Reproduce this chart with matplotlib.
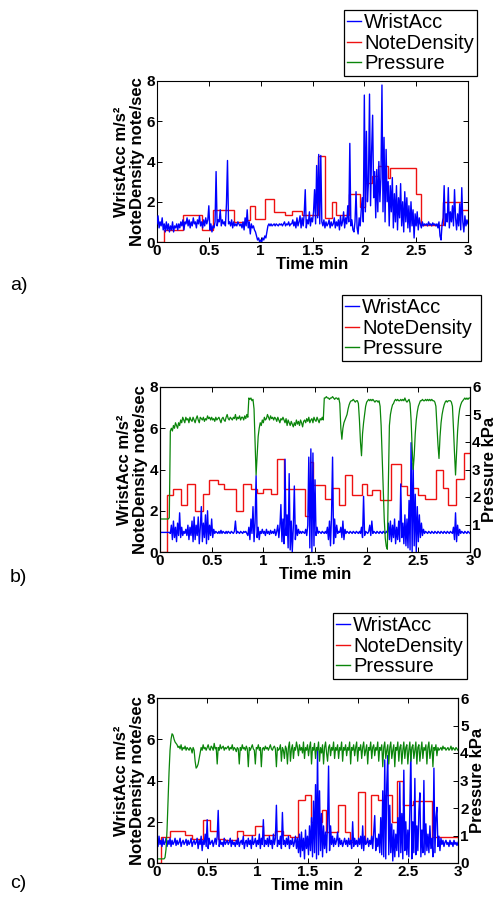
import numpy as np
import matplotlib
matplotlib.use("Agg")
import matplotlib.pyplot as plt
from matplotlib.lines import Line2D

plt.rcParams['font.family'] = ['Liberation Sans', 'DejaVu Sans']

# ---------------- data ----------------
# WristAcc sampled every 0.01 min from 0 to 3 min (m/s^2)
wrist_a = [
    0.9, 1.3, 0.7, 1.0, 0.8, 1.2, 0.6, 0.9, 0.5, 1.0,
    0.6, 0.9, 0.5, 0.8, 0.6, 1.0, 0.5, 0.8, 0.7, 0.9,
    0.6, 0.9, 0.7, 1.0, 0.8, 1.1, 0.6, 1.0, 0.9, 1.2,
    0.8, 1.1, 0.7, 1.0, 0.8, 1.2, 0.9, 1.0, 0.7, 1.1,
    0.9, 1.3, 0.8, 1.0, 0.7, 1.1, 0.8, 1.2, 0.9, 1.1,
    1.8, 0.6, 0.9, 0.5, 0.8, 0.7, 1.0, 3.5, 0.8, 1.1,
    1.0, 1.6, 0.8, 1.1, 0.9, 1.0, 0.8, 1.9, 4.05, 0.9,
    1.0, 0.8, 1.1, 0.7, 1.0, 0.8, 0.9, 0.8, 1.0, 0.9,
    0.8, 0.9, 0.7, 1.0, 0.6, 1.2, 0.8, 1.6, 0.7, 1.0,
    0.4, 0.9, 0.7, 0.8, 0.6, 0.5, 0.3, 0.1, 0.2, 0.0,
    0.1, 0.0, 0.2, 0.1, 0.3, 0.2, 0.5, 0.8, 0.9, 0.8,
    0.9, 0.8, 0.85, 0.9, 0.8, 0.9, 0.85, 0.8, 0.9, 0.85,
    0.9, 0.8, 0.9, 1.0, 0.8, 0.9, 0.85, 1.0, 0.8, 0.9,
    0.9, 1.1, 0.8, 1.0, 0.7, 1.2, 0.8, 1.0, 1.3, 0.7,
    1.2, 0.8, 1.4, 2.6, 0.7, 1.1, 0.9, 1.5, 0.8, 1.2,
    1.0, 1.5, 2.6, 0.9, 3.8, 1.2, 4.35, 0.9, 4.3, 1.0,
    0.8, 1.1, 0.7, 1.0, 0.8, 0.9, 1.1, 0.7, 1.0, 0.8,
    0.9, 1.2, 0.7, 1.0, 0.8, 1.1, 0.6, 1.3, 0.8, 1.0,
    1.5, 0.7, 1.2, 0.9, 1.8, 1.0, 4.9, 0.8, 1.1, 0.6,
    0.5, 1.0, 2.5, 0.7, 0.4, 1.2, 0.8, 1.6, 2.2, 1.0,
    7.3, 1.5, 5.5, 2.0, 3.0, 7.35, 1.8, 4.5, 6.3, 2.2,
    3.5, 1.2, 3.6, 1.5, 4.0, 2.0, 3.2, 7.8, 1.5, 5.2,
    1.0, 4.6, 2.0, 3.0, 0.8, 2.8, 1.5, 3.2, 0.7, 2.4,
    1.0, 2.8, 0.6, 2.2, 1.2, 2.9, 0.8, 2.0, 0.5, 2.5,
    1.0, 2.2, 0.7, 1.8, 0.5, 2.0, 0.8, 1.6, 0.2, 1.4,
    0.8, 1.5, 0.6, 1.2, 0.9, 0.7, 1.0, 0.8, 0.9, 0.85,
    0.9, 0.8, 1.0, 0.85, 0.9, 0.8, 0.95, 0.85, 0.9, 0.8,
    0.9, 0.7, 1.0, 0.3, 0.1, 0.9, 1.2, 2.8, 0.8, 1.4,
    1.0, 2.7, 0.7, 1.5, 1.0, 1.8, 0.8, 2.6, 1.2, 0.6,
    1.4, 0.8, 1.9, 0.6, 2.7, 1.0, 0.5, 1.3, 0.8, 1.1, 0.9,
]
wrist_b = [
    0.95, 0.95, 0.95, 0.95, 0.95, 0.95, 0.95, 0.95, 0.95, 0.95,
    0.9, 1.3, 0.6, 1.5, 0.7, 1.2, 0.5, 1.4, 0.8, 1.9,
    0.7, 1.2, 0.8, 1.0, 0.9, 1.1, 0.8, 1.3, 0.6, 1.2,
    0.8, 1.5, 0.5, 1.7, 0.6, 1.3, 0.8, 1.7, 0.4, 1.2,
    2.2, 0.5, 1.4, 0.7, 1.8, 0.4, 2.0, 0.6, 1.3, 0.8,
    1.6, 0.7, 1.1, 0.9, 1.0, 0.95, 0.9, 1.0, 0.9, 1.05,
    0.9, 1.0, 0.95, 0.9, 1.0, 0.9, 1.0, 0.95, 0.9, 1.0,
    0.95, 0.9, 1.0, 1.5, 0.9, 1.0, 0.95, 0.9, 1.0, 0.95,
    0.9, 1.0, 0.95, 1.0, 0.9, 0.8, 1.2, 0.6, 1.6, 0.9,
    2.2, 0.5, 1.4, 3.7, 0.7, 1.2, 0.6, 1.0, 0.9, 1.1,
    0.9, 1.0, 0.8, 1.1, 0.9, 1.0, 0.85, 1.05, 0.9, 1.0,
    0.9, 1.1, 0.8, 1.0, 1.3, 0.7, 1.2, 2.3, 0.5, 1.6,
    0.4, 4.5, 0.8, 1.8, 0.2, 3.8, 0.1, 1.5, 0.0, 1.2,
    3.2, 0.6, 1.3, 0.8, 1.1, 0.9, 1.0, 0.9, 1.0, 0.95,
    0.9, 1.1, 0.8, 1.3, 4.6, 0.2, 5.0, 0.0, 4.8, 0.3,
    3.5, 0.8, 1.2, 0.9, 1.0, 0.95, 0.9, 1.0, 0.95, 0.9,
    1.0, 0.9, 1.2, 0.6, 1.5, 0.3, 1.8, 4.6, 0.4, 1.6,
    0.7, 1.3, 0.9, 1.0, 0.95, 1.2, 0.7, 1.5, 0.6, 1.1,
    0.9, 1.0, 0.95, 0.9, 1.0, 0.95, 0.9, 1.0, 0.95, 0.9,
    1.0, 0.95, 0.9, 1.0, 0.9, 1.2, 0.7, 2.7, 0.8, 1.0,
    0.95, 0.9, 1.0, 1.3, 0.8, 1.5, 0.9, 1.0, 0.95, 0.9,
    1.0, 0.95, 0.9, 1.0, 0.95, 0.9, 1.0, 0.95, 0.9, 1.0,
    0.95, 1.4, 0.6, 1.5, 0.5, 1.3, 0.7, 1.6, 0.4, 1.2,
    0.6, 1.5, 0.5, 3.3, 0.7, 1.4, 0.4, 1.8, 0.3, 1.6,
    0.2, 2.5, 0.1, 5.3, 0.0, 4.3, 0.3, 2.8, 0.0, 2.2,
    0.5, 1.8, 0.7, 1.4, 0.8, 1.1, 0.9, 1.0, 0.95, 0.9,
    1.0, 0.95, 0.9, 1.0, 0.95, 0.9, 1.0, 0.95, 0.9, 1.0,
    0.95, 0.9, 1.0, 0.95, 0.9, 1.0, 0.95, 0.9, 1.0, 0.95,
    0.9, 1.0, 0.95, 0.9, 1.2, 0.6, 1.9, 0.5, 1.3, 0.8,
    1.1, 0.9, 1.0, 0.95, 0.9, 1.0, 0.95, 0.9, 1.0, 0.95, 0.9,
]
wrist_c = [
    1.2, 0.8, 1.3, 0.9, 1.1, 0.8, 1.2, 0.9, 1.0, 1.2,
    0.8, 1.1, 0.9, 1.2, 0.8, 1.1, 0.9, 1.0, 1.2, 0.85,
    1.1, 0.9, 1.0, 1.2, 0.8, 1.0, 1.1, 0.9, 1.0, 1.15,
    0.85, 1.1, 0.9, 1.0, 1.2, 0.8, 1.0, 1.1, 0.9, 1.0,
    1.2, 0.7, 1.1, 0.9, 1.3, 0.6, 1.1, 0.9, 1.4, 0.8,
    2.1, 0.7, 1.2, 0.9, 1.0, 1.1, 0.8, 1.0, 1.2, 0.9,
    1.3, 2.55, 0.8, 1.1, 0.9, 1.0, 0.8, 1.2, 0.9, 1.0,
    1.1, 0.9, 1.0, 1.2, 0.8, 1.1, 0.9, 1.0, 0.8, 1.1,
    0.9, 1.2, 0.8, 1.0, 1.1, 0.9, 1.3, 0.7, 1.0, 1.1,
    0.8, 1.2, 0.9, 1.1, 0.7, 1.3, 0.9, 1.0, 1.2, 0.8,
    1.1, 0.9, 1.4, 0.7, 1.2, 0.9, 2.1, 0.8, 1.1, 0.9,
    1.2, 0.8, 1.3, 0.9, 1.1, 0.7, 1.4, 0.9, 1.2, 2.8,
    0.8, 1.1, 0.9, 1.3, 0.7, 2.45, 0.9, 1.1, 0.8, 1.2,
    0.9, 1.3, 0.7, 1.1, 0.9, 1.2, 0.8, 1.0, 1.3, 0.7,
    1.2, 0.5, 1.4, 0.3, 1.5, 0.6, 1.2, 0.2, 1.6, 0.7,
    1.3, 0.4, 1.8, 0.6, 2.2, 0.3, 3.0, 0.5, 3.8, 0.2,
    5.6, 0.4, 3.5, 0.6, 2.4, 0.3, 1.8, 0.7, 1.5, 0.5,
    2.0, 4.7, 0.6, 1.8, 0.9, 1.3, 0.8, 1.2, 0.9, 1.1,
    1.5, 0.8, 1.2, 0.9, 1.1, 0.8, 1.0, 1.2, 0.9, 1.1,
    0.8, 1.2, 0.9, 1.1, 0.7, 2.0, 0.8, 1.2, 0.9, 1.1,
    0.8, 1.2, 0.9, 1.3, 0.7, 1.8, 0.6, 1.3, 0.9, 1.0,
    1.2, 0.8, 1.1, 0.9, 1.3, 0.7, 1.5, 2.3, 0.6, 1.2,
    0.8, 1.4, 0.5, 2.2, 0.4, 3.5, 0.3, 5.0, 0.2, 3.8,
    5.2, 0.4, 2.8, 0.5, 1.9, 0.1, 1.6, 0.3, 1.4, 0.6,
    2.2, 0.3, 3.9, 0.5, 2.4, 0.2, 4.5, 0.6, 2.0, 0.4,
    1.6, 0.3, 2.6, 5.5, 0.2, 2.0, 0.5, 4.1, 0.4, 1.8,
    0.6, 2.5, 3.4, 0.3, 1.6, 0.5, 4.0, 0.4, 1.9, 0.6,
    1.4, 0.5, 1.8, 0.7, 1.2, 0.3, 4.6, 0.5, 2.2, 2.7,
    0.8, 1.3, 0.6, 1.2, 0.9, 1.1, 0.8, 1.0, 1.1, 0.9,
    1.0, 0.8, 1.1, 0.9, 1.0, 0.8, 1.1, 0.9, 1.0, 0.85, 1.0,
]

# Pressure (kPa), every 0.01 min
pressure_b = [
    1.2, 1.2, 1.2, 1.2, 1.2, 1.2, 1.2, 1.2, 1.2, 1.25,
    4.4, 4.5, 4.4, 4.6, 4.5, 4.7, 4.6, 4.5, 4.7, 4.6,
    4.8, 4.7, 4.9, 4.8, 4.7, 4.9, 4.8, 4.85, 4.7, 4.9,
    4.8, 4.75, 4.9, 4.8, 4.7, 4.85, 4.95, 4.8, 4.7, 4.9,
    4.85, 4.8, 4.9, 4.75, 4.85, 4.8, 4.95, 4.85, 4.9, 4.8,
    4.9, 4.8, 4.85, 4.75, 4.9, 4.8, 4.85, 4.9, 4.8, 4.7,
    4.85, 4.9, 4.8, 4.75, 4.9, 5.0, 4.85, 4.8, 4.9, 4.85,
    4.8, 4.9, 4.85, 5.0, 4.8, 4.9, 4.85, 4.95, 4.8, 4.9,
    4.9, 4.8, 4.95, 4.85, 5.0, 4.9, 5.6, 5.55, 5.6, 5.5,
    5.55, 5.2, 4.0, 2.8, 3.5, 4.2, 4.5, 4.7, 4.6, 4.8,
    4.7, 4.9, 4.8, 4.85, 5.0, 4.9, 4.8, 4.95, 4.85, 4.9,
    4.8, 4.9, 4.85, 4.75, 4.9, 4.8, 4.7, 4.85, 4.8, 4.9,
    4.8, 4.7, 4.85, 4.6, 4.8, 4.7, 4.6, 4.75, 4.65, 4.55,
    4.7, 4.6, 4.8, 4.65, 4.75, 4.6, 4.8, 4.7, 4.55, 4.75,
    4.8, 4.7, 4.85, 4.75, 4.9, 4.7, 4.8, 4.85, 4.7, 4.9,
    4.8, 4.75, 4.9, 4.8, 4.7, 4.85, 4.8, 4.9, 4.8, 5.6,
    5.6, 5.65, 5.6, 5.6, 5.55, 5.6, 5.6, 5.65, 5.6, 5.55,
    5.6, 5.6, 5.55, 5.6, 5.4, 4.5, 4.1, 4.5, 4.7, 4.8,
    4.9, 5.0, 5.2, 5.35, 5.45, 5.5, 5.5, 5.55, 5.5, 5.45,
    5.5, 5.5, 5.4, 4.8, 4.0, 3.5, 4.3, 4.7, 5.0, 5.3,
    5.45, 5.5, 5.55, 5.5, 5.55, 5.5, 5.55, 5.5, 5.45, 5.5,
    5.5, 5.45, 5.5, 5.3, 4.6, 3.5, 2.4, 1.2, 0.5, 0.2,
    0.1, 2.5, 4.6, 5.0, 5.2, 5.35, 5.4, 5.5, 5.55, 5.5,
    5.55, 5.5, 5.5, 5.55, 5.5, 5.55, 5.5, 5.6, 5.5, 5.45,
    5.5, 5.55, 5.4, 4.8, 3.8, 3.0, 3.5, 4.3, 4.8, 5.1,
    5.3, 5.4, 5.5, 5.5, 5.55, 5.5, 5.5, 5.55, 5.5, 5.55,
    5.5, 5.55, 5.5, 5.55, 5.5, 5.5, 5.45, 5.3, 4.6, 3.9,
    3.4, 4.2, 4.7, 5.0, 5.2, 5.35, 5.45, 5.5, 5.45, 5.5,
    5.5, 5.5, 5.45, 5.3, 4.5, 3.6, 2.8, 3.6, 4.4, 4.9,
    5.2, 5.35, 5.45, 5.5, 5.55, 5.6, 5.55, 5.6, 5.55, 5.6, 5.6,
]
pressure_c = [
    0.15, 0.15, 0.15, 0.15, 0.15, 0.15, 0.15, 0.15, 0.2, 0.5,
    1.2, 2.3, 3.3, 4.1, 4.5, 4.7, 4.65, 4.5, 4.4, 4.35,
    4.3, 4.2, 4.25, 4.15, 4.3, 4.1, 4.2, 4.15, 4.25, 4.1,
    4.2, 4.15, 4.1, 4.2, 4.15, 4.0, 4.2, 4.1, 3.7, 3.45,
    3.5, 3.6, 3.8, 4.0, 4.2, 4.1, 4.3, 4.15, 4.2, 4.1,
    4.2, 4.3, 4.15, 4.1, 4.25, 4.2, 4.1, 4.35, 4.15, 4.2,
    3.6, 4.2, 4.1, 4.3, 4.15, 4.2, 4.25, 4.1, 4.2, 4.15,
    4.2, 4.25, 4.1, 4.2, 4.15, 4.3, 4.1, 4.2, 4.15, 4.05,
    4.2, 4.15, 3.6, 4.2, 4.1, 4.3, 4.15, 4.2, 4.1, 4.25,
    4.15, 3.5, 4.2, 4.1, 4.2, 4.3, 4.15, 4.1, 3.6, 4.2,
    4.15, 4.3, 4.1, 4.2, 3.5, 4.15, 4.2, 4.1, 4.25, 4.15,
    4.2, 4.1, 4.2, 4.3, 4.15, 4.1, 4.2, 4.25, 4.15, 3.5,
    4.2, 4.1, 4.15, 4.3, 3.7, 4.2, 4.1, 3.8, 4.25, 4.15,
    3.6, 4.2, 4.4, 3.7, 4.15, 4.3, 3.8, 4.2, 4.1, 4.4,
    4.2, 3.9, 4.3, 4.1, 4.2, 4.0, 4.4, 3.8, 4.2, 4.1,
    4.3, 3.9, 4.2, 4.4, 3.6, 4.2, 4.1, 4.35, 3.8, 4.2,
    4.1, 4.4, 3.7, 4.2, 4.0, 4.3, 3.6, 4.2, 4.4, 4.0,
    3.7, 4.2, 4.3, 3.9, 4.2, 4.1, 4.4, 3.8, 4.2, 4.1,
    4.3, 3.8, 4.2, 4.1, 4.4, 3.7, 4.2, 4.1, 4.3, 3.9,
    4.2, 4.1, 4.4, 3.6, 4.2, 4.1, 4.3, 3.9, 4.2, 4.4,
    3.7, 4.2, 4.1, 4.3, 3.8, 4.2, 4.4, 3.9, 4.1, 4.3,
    3.6, 4.2, 4.1, 4.4, 3.8, 4.2, 4.3, 3.9, 4.2, 4.1,
    4.4, 3.7, 4.2, 4.1, 4.3, 3.5, 4.2, 4.4, 3.8, 4.1,
    4.3, 3.6, 4.2, 4.4, 3.8, 4.1, 4.3, 3.5, 4.2, 4.1,
    4.4, 3.7, 4.2, 4.3, 3.6, 4.1, 4.4, 3.8, 4.2, 4.3,
    3.6, 4.1, 4.4, 3.7, 4.2, 4.3, 3.8, 4.1, 4.4, 3.6,
    4.2, 4.3, 3.7, 4.1, 4.4, 3.8, 4.2, 4.1, 4.3, 3.6,
    4.2, 4.4, 3.8, 4.1, 4.3, 3.5, 4.2, 4.1, 4.3, 3.9,
    4.2, 4.1, 4.15, 4.2, 4.1, 4.25, 4.15, 4.2, 4.1, 4.15,
    4.2, 4.1, 4.15, 4.25, 4.1, 4.2, 4.15, 4.1, 4.2, 4.15, 4.1,
]

# NoteDensity (note/sec): step edges (min) and level in each step
nd_edges_a = [0, 0.064, 0.247, 0.433, 0.545, 0.74, 0.85, 0.898, 0.946, 1.042,
              1.132, 1.235, 1.30, 1.395, 1.556, 1.62, 1.69, 1.73, 1.85, 1.96,
              2.005, 2.07, 2.13, 2.23, 2.245, 2.495, 2.55, 2.76, 2.935, 3.0]
nd_vals_a = [0, 0.58, 1.33, 0.58, 1.6, 1.0, 1.1, 1.78, 1.16, 2.16,
             1.5, 1.33, 1.55, 1.33, 4.27, 1.2, 2.0, 1.33, 2.4, 1.75,
             2.95, 3.3, 3.77, 3.2, 3.7, 2.4, 0.83, 2.0, 1.58]

nd_edges_b = [0, 0.07, 0.13, 0.2, 0.265, 0.34, 0.42, 0.47, 0.56, 0.62,
              0.74, 0.80, 0.88, 0.94, 1.00, 1.07, 1.13, 1.20, 1.40, 1.45,
              1.48, 1.60, 1.665, 1.73, 1.79, 1.86, 1.955, 2.0, 2.05, 2.13,
              2.235, 2.33, 2.39, 2.44, 2.50, 2.56, 2.67, 2.74, 2.79, 2.86,
              2.94, 3.0]
nd_vals_b = [0, 2.75, 3.05, 2.3, 3.3, 2.0, 2.8, 3.5, 3.3, 3.05,
             2.0, 3.3, 3.05, 2.85, 3.05, 2.8, 4.5, 3.05, 1.75, 4.35,
             3.25, 2.55, 3.08, 2.27, 3.72, 2.75, 3.28, 2.75, 3.0, 2.5,
             4.29, 3.2, 2.75, 3.08, 2.75, 2.59, 4.0, 3.08, 2.27, 3.55,
             4.8]

nd_edges_c = [0, 0.04, 0.13, 0.28, 0.346, 0.462, 0.528, 0.611, 0.678, 0.794,
              0.86, 0.977, 1.06, 1.176, 1.26, 1.326, 1.409, 1.476, 1.535, 1.64,
              1.685, 1.808, 1.874, 1.924, 2.007, 2.074, 2.134, 2.207, 2.273, 2.34,
              2.396, 2.456, 2.556, 2.74, 3.0]
nd_vals_c = [0, 1.27, 1.56, 1.35, 1.18, 2.07, 1.56, 1.18, 1.1, 1.56,
             1.35, 1.78, 1.35, 1.56, 1.35, 1.28, 3.06, 3.3, 2.0, 2.57,
             1.52, 2.8, 1.52, 1.03, 3.45, 1.03, 3.3, 3.06, 3.3, 2.0,
             3.99, 2.8, 3.0, 1.28]

x_ticks = [0, 0.5, 1, 1.5, 2, 2.5, 3]
x_tick_labels = ['0', '0.5', '1', '1.5', '2', '2.5', '3']
left_ticks = [0, 2, 4, 6, 8]
right_ticks = [0, 1, 2, 3, 4, 5, 6]
legend_labels = ['WristAcc', 'NoteDensity', 'Pressure']
panel_letters = ['a)', 'b)', 'c)']

BLUE = '#0000ff'
RED = '#ee1111'
GREEN = '#0a850a'

W, H = 496, 898
fig = plt.figure(figsize=(W / 100, H / 100), dpi=100)


def fig_rect(x0, y0, x1, y1):
    return [x0 / W, 1 - y1 / H, (x1 - x0) / W, (y1 - y0) / H]


def style_axis(ax):
    for s in ax.spines.values():
        s.set_linewidth(0.8)
    ax.tick_params(direction='in', length=3.5, width=0.7, labelsize=11, pad=1.5)
    for lab in ax.get_xticklabels() + ax.get_yticklabels():
        lab.set_fontweight('bold')


def make_panel(rect, wrist, edges, nd, pressure, legend_box, letter, letter_y):
    ax = fig.add_axes(fig_rect(*rect))
    t = np.linspace(0, 3, len(wrist))
    ax.stairs(nd, edges, baseline=None, color=RED, lw=1.0, zorder=2)
    ax.plot(t, wrist, color=BLUE, lw=1.0, zorder=3)
    ax.set_xlim(0, 3)
    ax.set_ylim(0, 8)
    ax.set_xticks(x_ticks)
    ax.set_xticklabels(x_tick_labels)
    ax.set_yticks(left_ticks)
    ax.set_xlabel('Time min', fontsize=12, fontweight='bold', labelpad=-1)
    ax.set_ylabel('WristAcc m/s²\nNoteDensity note/sec', fontsize=12,
                  fontweight='bold', labelpad=1, linespacing=1.05)
    if pressure is None:
        ax.tick_params(top=True, right=True)
        style_axis(ax)
    else:
        ax.tick_params(top=True, right=False)
        style_axis(ax)
        ax2 = ax.twinx()
        tp = np.linspace(0, 3, len(pressure))
        ax2.plot(tp, pressure, color=GREEN, lw=0.9)
        ax2.set_ylim(0, 6)
        ax2.set_yticks(right_ticks)
        ax2.set_ylabel('Pressure kPa', fontsize=12, fontweight='bold', labelpad=1)
        style_axis(ax2)
    handles = [Line2D([], [], color=BLUE, lw=1),
               Line2D([], [], color=RED, lw=1),
               Line2D([], [], color=GREEN, lw=1)]
    lx0, ly0, lx1, ly1 = legend_box
    leg = fig.legend(handles, legend_labels, loc='upper left',
                     bbox_to_anchor=(lx0 / W, 1 - ly1 / H, (lx1 - lx0) / W, (ly1 - ly0) / H),
                     bbox_transform=fig.transFigure, mode='expand',
                     fontsize=14.5, handlelength=0.7, handletextpad=0.15,
                     borderpad=0.15, labelspacing=0.08, borderaxespad=0,
                     fancybox=False, framealpha=1, edgecolor='black')
    leg.get_frame().set_linewidth(0.9)
    fig.text(10 / W, 1 - letter_y / H, letter, fontsize=14, va='center', ha='left')
    return ax


make_panel((157, 81, 468, 242), wrist_a, nd_edges_a, nd_vals_a, None,
           (344, 10, 477, 83), panel_letters[0], 286)
make_panel((160, 387, 470, 552), wrist_b, nd_edges_b, nd_vals_b, pressure_b,
           (342, 295, 481, 373), panel_letters[1], 578)
make_panel((157, 698, 458, 863), wrist_c, nd_edges_c, nd_vals_c, pressure_c,
           (333, 613, 467, 687), panel_letters[2], 884)

fig.savefig('out.png', dpi=100)
